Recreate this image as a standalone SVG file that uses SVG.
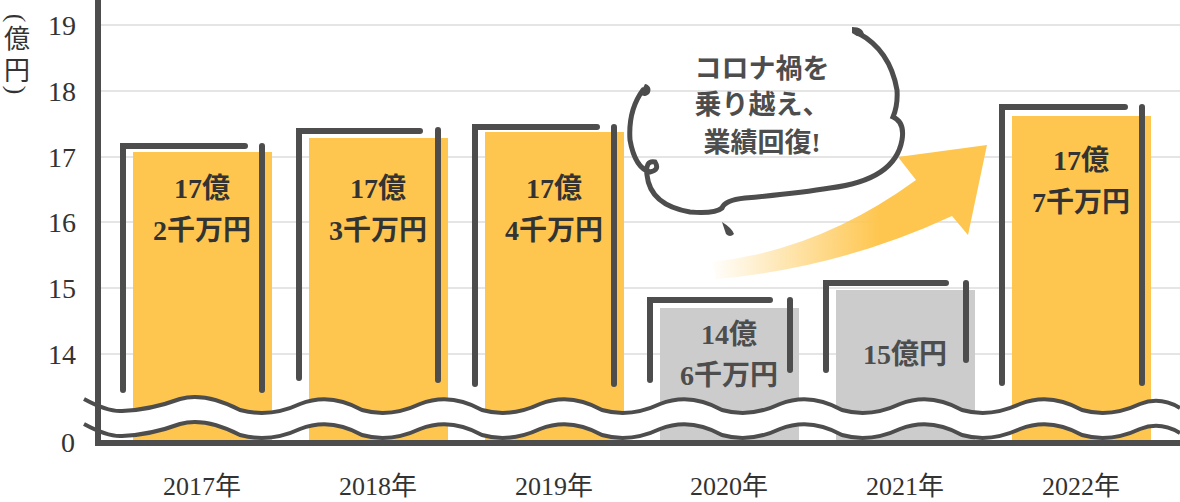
<svg xmlns="http://www.w3.org/2000/svg" width="1180" height="502" viewBox="0 0 1180 502">
<defs>
<style>
.grid{stroke:#e5e5e5;stroke-width:2}
.br{fill:none;stroke:#4d4d4d;stroke-width:6;stroke-linecap:round;stroke-linejoin:miter}
.t{font-family:"Liberation Serif","Noto Sans CJK JP",serif;fill:#333;text-anchor:middle}
.v{font-size:28px;font-weight:bold}
.ax{font-size:28px}
.yr{font-size:26px}
.y{fill:#fec64f}.g{fill:#cccccc}
</style>
<linearGradient id="ag" x1="710" y1="0" x2="880" y2="0" gradientUnits="userSpaceOnUse">
<stop offset="0" stop-color="#fec64f" stop-opacity="0"/><stop offset="1" stop-color="#fec64f"/>
</linearGradient>
<path id="wave" d="M84 399 Q108 412 122 411 Q150 410 180 399 Q205 392 240 410 Q270 418 300 404 Q330 392 362 410 Q390 418 420 404 Q450 392 482 410 Q510 418 540 404 Q570 392 602 410 Q630 418 660 404 Q690 392 722 410 Q750 418 780 404 Q810 392 842 410 Q870 418 900 404 Q930 392 962 410 Q990 418 1020 404 Q1050 392 1082 410 Q1110 418 1140 404 Q1160 396 1180 408"/>
</defs>
<rect width="1180" height="502" fill="#fff"/>
<g id="grid">
<line class="grid" x1="100" y1="25" x2="1180" y2="25"/>
<line class="grid" x1="100" y1="91" x2="1180" y2="91"/>
<line class="grid" x1="100" y1="157" x2="1180" y2="157"/>
<line class="grid" x1="100" y1="222" x2="1180" y2="222"/>
<line class="grid" x1="100" y1="288" x2="1180" y2="288"/>
<line class="grid" x1="100" y1="354" x2="1180" y2="354"/>
</g>
<g id="axis-labels" class="t ax">
<text x="62" y="35">19</text><text x="62" y="101">18</text><text x="62" y="167">17</text>
<text x="62" y="232">16</text><text x="62" y="298">15</text><text x="62" y="364">14</text>
<text x="68" y="452">0</text>
<text x="17" y="48" style="font-size:26px">億</text>
<text x="17" y="80" style="font-size:26px">円</text>
<text x="0" y="0" transform="translate(8,18) rotate(90)" style="font-size:26px">(</text>
<text x="0" y="0" transform="translate(8,90) rotate(90)" style="font-size:26px">)</text>
</g>
<g id="bar-2017"><rect class="y" x="133" y="152" width="139" height="291"/><path class="br" d="M123 390V146H245M262 146V390"/><text class="t v" x="202" y="198">17億</text><text class="t v" x="202" y="240">2千万円</text></g>
<g id="bar-2018"><rect class="y" x="309" y="138" width="139" height="305"/><path class="br" d="M299 378V131H420M438 130V380"/><text class="t v" x="378" y="198">17億</text><text class="t v" x="378" y="240">3千万円</text></g>
<g id="bar-2019"><rect class="y" x="485" y="132" width="139" height="311"/><path class="br" d="M475 384V127H597M614 127V384"/><text class="t v" x="554" y="198">17億</text><text class="t v" x="554" y="240">4千万円</text></g>
<g id="bar-2020"><rect class="g" x="660" y="308" width="139" height="135"/><path class="br" d="M650 380V300H770M790 300V370"/><text class="t v" x="729" y="344" style="fill:#4d4d4d">14億</text><text class="t v" x="729" y="385" style="fill:#4d4d4d">6千万円</text></g>
<g id="bar-2021"><rect class="g" x="836" y="290" width="139" height="153"/><path class="br" d="M826 370V283H946M966 283V360"/><text class="t v" x="905" y="364" style="fill:#4d4d4d">15億円</text></g>
<g id="bar-2022"><rect class="y" x="1012" y="116" width="139" height="327"/><path class="br" d="M1002 383V107H1125M1142 107V383"/><text class="t v" x="1081" y="170">17億</text><text class="t v" x="1081" y="212">7千万円</text></g>
<g id="break">
<use href="#wave" transform="translate(0,12.5)" fill="none" stroke="#fff" stroke-width="25"/>
<use href="#wave" fill="none" stroke="#4d4d4d" stroke-width="4"/>
<use href="#wave" transform="translate(0,25)" fill="none" stroke="#4d4d4d" stroke-width="4"/>
</g>
<g id="axes"><path fill="none" stroke="#4d4d4d" stroke-width="6" d="M98 0V443H1180"/></g>
<g id="arrow"><path fill="url(#ag)" d="M712 262 Q820 250 916 180 L898 157 L987 145 L968 235 L952 216 Q840 268 716 279 Z"/></g>
<g id="bubble">
<path fill="none" stroke="#4d4d4d" stroke-width="5" stroke-linecap="round" d="M643 90 Q628 110 630 140 Q635 168 650 172 Q660 170 655 162 Q645 160 647 175 Q650 205 690 212 Q715 214 722 208 Q725 200 745 198 Q800 193 830 188 Q895 180 902 140 Q905 122 893 117 Q898 105 897 90 Q890 50 858 33"/>
<path fill="#4d4d4d" d="M645 84 a6 6 0 1 1 -5 10z M852 27 q12 0 12 9 q-6 2 -12 -3z M722 222 q10 6 12 12 q-4 4 -8 0z"/>
<text class="t v" x="762" y="78" style="fill:#4d4d4d;font-size:27px">コロナ禍を</text>
<text class="t v" x="762" y="114" style="fill:#4d4d4d;font-size:27px">乗り越え、</text>
<text class="t v" x="762" y="152" style="fill:#4d4d4d;font-size:27px">業績回復!</text>
</g>
<g id="years" class="t yr">
<text x="202" y="495">2017年</text><text x="378" y="495">2018年</text><text x="554" y="495">2019年</text>
<text x="729" y="495">2020年</text><text x="905" y="495">2021年</text><text x="1081" y="495">2022年</text>
</g>
</svg>
